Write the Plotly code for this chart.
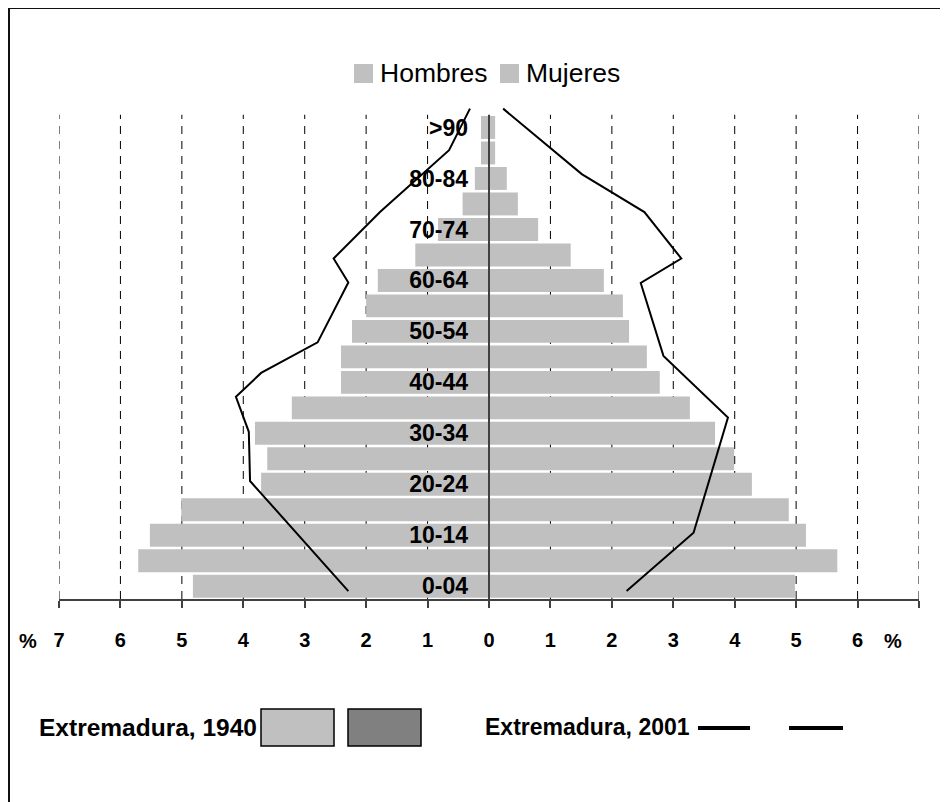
import plotly.graph_objects as go

# ---------------- data ----------------
age_groups = ["0-04", "5-09", "10-14", "15-19", "20-24", "25-29", "30-34", "35-39",
              "40-44", "45-49", "50-54", "55-59", "60-64", "65-69", "70-74", "75-79",
              "80-84", "85-89", ">90"]
hombres_1940 = [4.82, 5.71, 5.52, 5.01, 3.71, 3.61, 3.81, 3.21, 2.41, 2.41,
                2.23, 2.00, 1.81, 1.20, 0.83, 0.43, 0.23, 0.13, 0.13]
mujeres_1940 = [4.98, 5.67, 5.16, 4.88, 4.28, 3.99, 3.68, 3.27, 2.78, 2.57,
                2.28, 2.18, 1.87, 1.33, 0.80, 0.47, 0.29, 0.10, 0.10]

# 2001 outline vertices: position along age axis (age-group units) and percent
hombres_2001_pos = [-0.19, 4.13, 6.06, 7.43, 8.37, 9.57, 11.92, 12.86, 14.69, 17.11, 18.74]
hombres_2001_pct = [2.29, 3.89, 3.91, 4.12, 3.71, 2.79, 2.29, 2.53, 1.77, 0.65, 0.31]
mujeres_2001_pos = [-0.19, 2.10, 6.62, 9.04, 11.90, 12.86, 14.68, 16.17, 18.74]
mujeres_2001_pct = [2.24, 3.33, 3.89, 2.84, 2.47, 3.13, 2.53, 1.51, 0.23]

x_ticks = list(range(-7, 8))
x_tick_text = [str(abs(v)) for v in x_ticks[:-1]] + [""]

legend_top = ["Hombres", "Mujeres"]
legend_bottom = ["Extremadura, 1940", "Extremadura, 2001"]

# ---------------- figure ----------------
FONT = "Arial, Liberation Sans, sans-serif"
OFF = 8                       # browser body margin
W, H = 948 - OFF, 802 - OFF
# plot area in screen pixels
SX0, SX1, SY0, SY1 = 59, 919, 102, 599
PL, PT = SX0 - OFF, SY0 - OFF
PR, PB = W - (SX1 - OFF), H - (SY1 - OFF)
PW, PH = SX1 - SX0, SY1 - SY0


def px(x):
    return (x - SX0) / PW


def py(y):
    return (SY1 - y) / PH


idx = list(range(len(age_groups)))
fig = go.Figure()
fig.add_bar(y=idx, x=[-v for v in hombres_1940], orientation="h",
            marker=dict(color="#C0C0C0", line=dict(width=0)), name=legend_top[0],
            showlegend=False)
fig.add_bar(y=idx, x=mujeres_1940, orientation="h",
            marker=dict(color="#C0C0C0", line=dict(width=0)), name=legend_top[1],
            showlegend=False)
fig.add_scatter(x=[-v for v in hombres_2001_pct], y=hombres_2001_pos, mode="lines",
                line=dict(color="black", width=2), showlegend=False)
fig.add_scatter(x=mujeres_2001_pct, y=mujeres_2001_pos, mode="lines",
                line=dict(color="black", width=2), showlegend=False)

shapes = []
for v in x_ticks:
    if v == 0:
        continue
    shapes.append(dict(type="line", xref="x", yref="y", x0=v, x1=v, y0=-0.5, y1=18.5,
                       line=dict(color="black", width=1, dash="8px,7px"), layer="below"))
shapes.append(dict(type="line", xref="x", yref="y", x0=0, x1=0, y0=-0.5, y1=18.5,
                   line=dict(color="#404040", width=2), layer="above"))
# outer frame (top and left edges visible)
shapes.append(dict(type="line", xref="paper", yref="paper", x0=px(9), x1=px(960),
                   y0=py(8), y1=py(8), line=dict(color="#111", width=2)))
shapes.append(dict(type="line", xref="paper", yref="paper", x0=px(9), x1=px(9),
                   y0=py(8), y1=py(820), line=dict(color="#111", width=2)))
# top legend squares
shapes.append(dict(type="rect", xref="paper", yref="paper", x0=px(354), x1=px(373),
                   y0=py(83), y1=py(64), fillcolor="#C0C0C0", line=dict(width=0)))
shapes.append(dict(type="rect", xref="paper", yref="paper", x0=px(500), x1=px(519),
                   y0=py(83), y1=py(64), fillcolor="#C0C0C0", line=dict(width=0)))
# bottom legend boxes
shapes.append(dict(type="rect", xref="paper", yref="paper", x0=px(261), x1=px(334),
                   y0=py(746), y1=py(709), fillcolor="#C0C0C0",
                   line=dict(color="black", width=1.5)))
shapes.append(dict(type="rect", xref="paper", yref="paper", x0=px(348), x1=px(421),
                   y0=py(746), y1=py(709), fillcolor="#808080",
                   line=dict(color="black", width=1.5)))
# bottom legend dashes
for a, b in [(698, 750), (789, 843)]:
    shapes.append(dict(type="line", xref="paper", yref="paper", x0=px(a), x1=px(b),
                       y0=py(728), y1=py(728), line=dict(color="black", width=4)))

annotations = [
    dict(text=legend_top[0], x=px(378), y=py(73), xanchor="left", yanchor="middle",
         font=dict(family=FONT, size=26.5, color="black")),
    dict(text=legend_top[1], x=px(524), y=py(73), xanchor="left", yanchor="middle",
         font=dict(family=FONT, size=26.5, color="black")),
    dict(text=legend_bottom[0], x=px(259), y=py(727), xanchor="right", yanchor="middle",
         font=dict(family=FONT, size=24.5, color="black", weight="bold")),
    dict(text=legend_bottom[1], x=px(483), y=py(727), xanchor="left", yanchor="middle",
         font=dict(family=FONT, size=23, color="black", weight="bold")),
    dict(text="%", x=px(28), y=py(641), xanchor="center", yanchor="middle",
         font=dict(family=FONT, size=20, color="black", weight="bold")),
    dict(text="%", x=px(893), y=py(641), xanchor="center", yanchor="middle",
         font=dict(family=FONT, size=20, color="black", weight="bold")),
]
for a in annotations:
    a.update(xref="paper", yref="paper", showarrow=False)

fig.update_layout(
    width=W, height=H,
    margin=dict(l=PL, r=PR, t=PT, b=PB, autoexpand=False),
    paper_bgcolor="white", plot_bgcolor="white",
    barmode="overlay", bargap=0.1,
    showlegend=False,
    font=dict(family=FONT, color="black"),
    xaxis=dict(range=[-7, 7], tickvals=x_ticks, ticktext=x_tick_text,
               ticks="outside", ticklen=7, tickwidth=1.5, tickcolor="#404040",
               showline=True, linecolor="#404040", linewidth=1.5,
               showgrid=False, zeroline=False, ticklabelstandoff=15,
               tickfont=dict(family=FONT, size=20, color="black", weight="bold")),
    yaxis=dict(range=[-0.5, 19.0], tickvals=idx[::2], ticktext=age_groups[::2],
               anchor="free", position=0.5, ticks="", showline=False,
               showgrid=False, zeroline=False, ticklabelstandoff=21,
               tickfont=dict(family=FONT, size=23, color="black", weight="bold")),
    yaxis2=dict(range=[-0.5, 19.0], overlaying="y", anchor="free", position=0.5,
                tickvals=[i - 0.5 for i in range(len(age_groups) + 1)],
                ticks="outside", ticklen=8, tickwidth=1.5, tickcolor="#404040",
                showticklabels=False, showgrid=False, zeroline=False, showline=False),
    shapes=shapes,
    annotations=annotations,
)

fig.write_html("out.html")
